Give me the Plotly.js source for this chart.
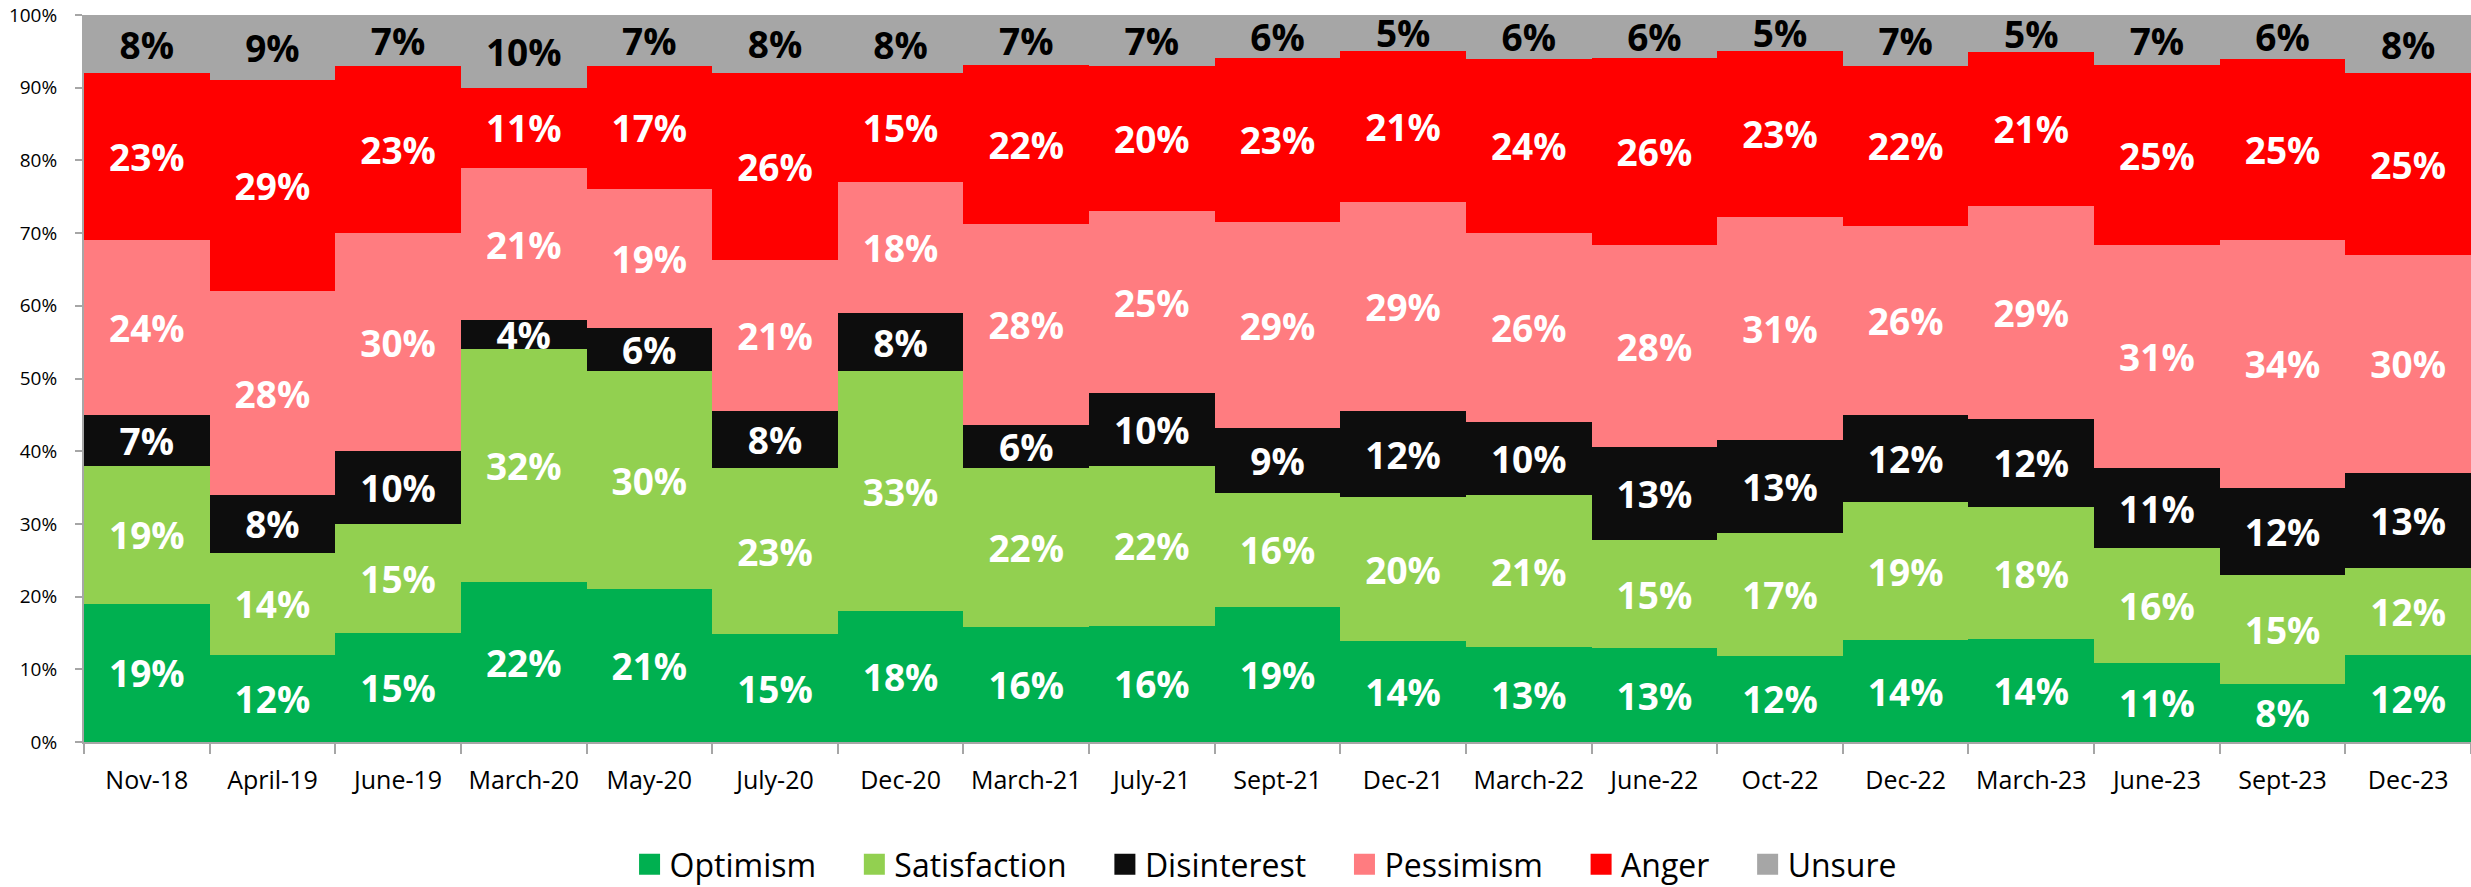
<!DOCTYPE html>
<html>
<head>
<meta charset="utf-8">
<script src="https://cdn.plot.ly/plotly-3.0.1.min.js"></script>
<style>
  html, body { margin: 0; padding: 0; background: #fff; }
  #chart { width: 2471px; height: 887px; }
</style>
</head>
<body>
<div id="chart"></div>
<script>
const categories = ['Nov-18','April-19','June-19','March-20','May-20','July-20','Dec-20','March-21','July-21','Sept-21','Dec-21','March-22','June-22','Oct-22','Dec-22','March-23','June-23','Sept-23','Dec-23'];

const optimism     = [19,12,15,22,21,15,18,16,16,19,14,13,13,12,14,14,11, 8,12];
const satisfaction = [19,14,15,32,30,23,33,22,22,16,20,21,15,17,19,18,16,15,12];
const disinterest  = [ 7, 8,10, 4, 6, 8, 8, 6,10, 9,12,10,13,13,12,12,11,12,13];
const pessimism    = [24,28,30,21,19,21,18,28,25,29,29,26,28,31,26,29,31,34,30];
const anger        = [23,29,23,11,17,26,15,22,20,23,21,24,26,23,22,21,25,25,25];
const unsure       = [ 8, 9, 7,10, 7, 8, 8, 7, 7, 6, 5, 6, 6, 5, 7, 5, 7, 6, 8];

const seriesNames  = ['Optimism','Satisfaction','Disinterest','Pessimism','Anger','Unsure'];
const seriesValues = [optimism, satisfaction, disinterest, pessimism, anger, unsure];
const seriesColors = ['#00B050','#92D050','#0D0D0D','#FF7C80','#FF0000','#A6A6A6'];
const labelColors  = ['#FFFFFF','#FFFFFF','#FFFFFF','#FFFFFF','#FFFFFF','#000000'];

const FONT = '"Open Sans", "Noto Sans", "DejaVu Sans", sans-serif';
const NBSP = '\u00a0';

const traces = seriesNames.map((name, i) => ({
  type: 'bar',
  name: name + (i < seriesNames.length - 1 ? NBSP.repeat(4) : ''),
  x: categories,
  y: seriesValues[i],
  text: seriesValues[i].map(v => v + '%'),
  texttemplate: '%{text}',
  textposition: 'inside',
  insidetextanchor: 'middle',
  textangle: 0,
  constraintext: 'none',
  textfont: { family: FONT, size: 37, color: labelColors[i], weight: 'bold' },
  marker: { color: seriesColors[i], line: { width: 0 } },
  hoverinfo: 'x+y+name'
}));

const layout = {
  width: 2471,
  height: 887,
  barmode: 'stack',
  barnorm: 'percent',
  bargap: 0,
  paper_bgcolor: '#FFFFFF',
  plot_bgcolor: '#FFFFFF',
  margin: { l: 84, r: 0, t: 15, b: 145, pad: 0 },
  font: { family: FONT, color: '#000000' },
  xaxis: {
    type: 'category',
    tickson: 'boundaries',
    ticks: 'outside',
    ticklen: 10,
    tickwidth: 2,
    tickcolor: '#A6A6A6',
    showline: true,
    linecolor: '#A6A6A6',
    linewidth: 2,
    showgrid: false,
    tickfont: { family: FONT, size: 25, color: '#000000' },
    ticklabelstandoff: 15
  },
  yaxis: {
    range: [0, 100],
    dtick: 10,
    ticksuffix: '%',
    ticks: 'outside',
    ticklen: 7,
    tickwidth: 2,
    tickcolor: '#A6A6A6',
    showline: true,
    linecolor: '#A6A6A6',
    linewidth: 2,
    showgrid: false,
    zeroline: false,
    tickfont: { family: FONT, size: 19, color: '#000000' },
    ticklabelstandoff: 14
  },
  showlegend: true,
  legend: {
    orientation: 'h',
    traceorder: 'normal',
    xref: 'paper',
    x: 0.495,
    xanchor: 'center',
    yref: 'container',
    y: 0.0255,
    yanchor: 'middle',
    borderwidth: 0,
    font: { family: FONT, size: 32, color: '#000000' },
    bgcolor: 'rgba(0,0,0,0)'
  }
};

Plotly.newPlot('chart', traces, layout, { staticPlot: true, displayModeBar: false }).then(gd => {
  gd.querySelectorAll('.legend .legendpoints path').forEach(p => {
    p.setAttribute('d', 'M10.5,10.5H-10.5V-10.5H10.5Z');
  });
});
</script>
</body>
</html>
